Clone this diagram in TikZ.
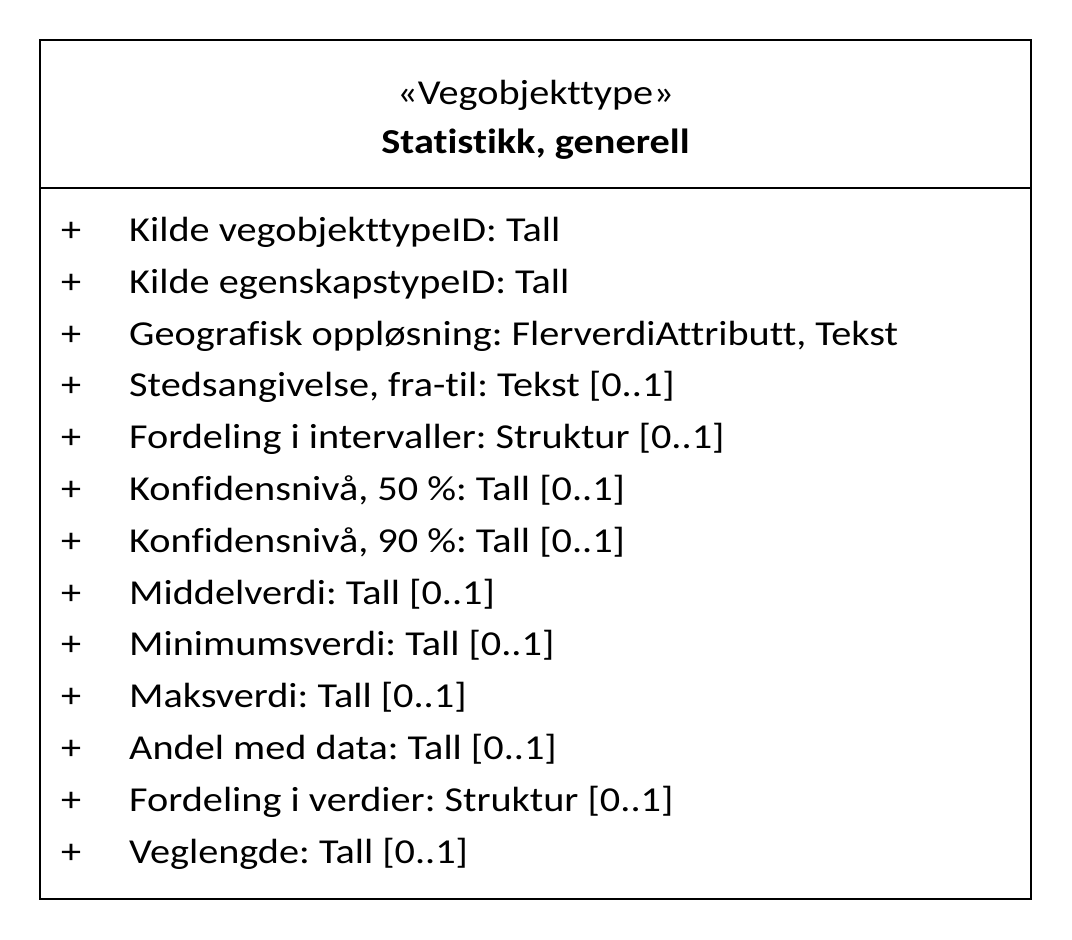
\documentclass[tikz,border=0pt]{standalone}
\usepackage{fontspec}
\setmainfont{Carlito}[FakeStretch=1.15,Ligatures=NoCommon]
\frenchspacing
\begin{document}
\begin{tikzpicture}[x=1pt,y=-1pt,
  frame/.style={draw=black,line width=1.3pt},
  attr/.style={anchor=base west,inner sep=0pt,font=\fontsize{35}{42}\selectfont},
  head/.style={anchor=base,inner sep=0pt,font=\fontsize{35}{42}\selectfont}]
  \useasboundingbox (0,0) rectangle (1072,940);
  % class box and compartment line
  \coordinate (tl) at (40,40);
  \coordinate (br) at (1031,899);
  \coordinate (dl) at (40,188);
  \coordinate (dr) at (1031,188);
  \draw[frame] (tl) rectangle (br);
  \draw[frame] (dl) -- (dr);
  % header
  \node[head] (stereo) at (535.5,104) {«Vegobjekttype»};
  \node[head,font=\fontsize{35}{42}\selectfont\bfseries] (name) at (535.5,153.5) {Statistikk, generell};
  % attributes
  \foreach \t [count=\i from 0] in {
    {Kilde vegobjekttypeID: Tall},
    {Kilde egenskapstypeID: Tall},
    {Geografisk oppløsning: FlerverdiAttributt, Tekst},
    {Stedsangivelse, fra-til: Tekst [0..1]},
    {Fordeling i intervaller: Struktur [0..1]},
    {Konfidensnivå, 50 \%: Tall [0..1]},
    {Konfidensnivå, 90 \%: Tall [0..1]},
    {Middelverdi: Tall [0..1]},
    {Minimumsverdi: Tall [0..1]},
    {Maksverdi: Tall [0..1]},
    {Andel med data: Tall [0..1]},
    {Fordeling i verdier: Struktur [0..1]},
    {Veglengde: Tall [0..1]}}{
    \node[attr] (vis\i) at (61,241.5+51.8*\i) {+};
    \node[attr] (attr\i) at (129,241.5+51.8*\i) {\t};
  }
\end{tikzpicture}
\end{document}
